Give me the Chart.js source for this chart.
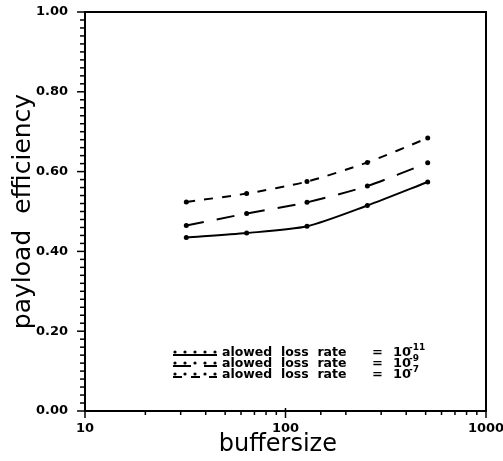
<!DOCTYPE html>
<html>
<head>
<meta charset="utf-8">
<script src="https://cdn.jsdelivr.net/npm/chart.js@4.4.1/dist/chart.umd.min.js"></script>
<style>
  html, body { margin: 0; padding: 0; background: #fff; }
  #wrap { width: 503px; height: 461px; position: relative; }
</style>
</head>
<body>
<div id="wrap"><canvas id="c"></canvas></div>
<script>
// ---- data ----
const bufferSizes = [32, 64, 128, 256, 512];
const rate1e11 = [0.435, 0.446, 0.463, 0.515, 0.574];
const rate1e9  = [0.465, 0.495, 0.523, 0.564, 0.622];
const rate1e7  = [0.524, 0.545, 0.575, 0.623, 0.684];
const seriesNames = ['alowed  loss  rate', 'alowed  loss  rate', 'alowed  loss  rate'];
const seriesExp = ['-11', '-9', '-7'];
const xTickLabels = [10, 100, 1000];
const yTickLabels = [0, 0.2, 0.4, 0.6, 0.8, 1.0];

const tickFont = { family: 'DejaVu Sans', size: 13, weight: 'bold' };

function pts(vals) { return bufferSizes.map((x, i) => ({ x: x, y: vals[i] })); }

const dashes = [[], [18, 13], [9, 9]];

const framePlugin = {
  id: 'frame',
  afterDraw(chart) {
    const ctx = chart.ctx, a = chart.chartArea;
    const xs = chart.scales.x, ys = chart.scales.y;
    ctx.save();
    ctx.strokeStyle = '#000';
    ctx.lineWidth = 2;
    ctx.strokeRect(a.left, a.top, a.right - a.left, a.bottom - a.top);
    // y ticks
    ctx.lineWidth = 1.5;
    ys.ticks.forEach(t => {
      const p = ys.getPixelForValue(t.value);
      const major = yTickLabels.some(v => Math.abs(v - t.value) < 1e-6);
      ctx.beginPath();
      ctx.moveTo(a.left - (major ? 8 : 5), p);
      ctx.lineTo(a.left, p);
      ctx.stroke();
    });
    // x ticks
    xs.ticks.forEach(t => {
      const p = xs.getPixelForValue(t.value);
      const major = xTickLabels.some(v => Math.abs(v - t.value) < 1e-6);
      ctx.beginPath();
      ctx.moveTo(p, a.bottom - (major ? 3 : 0));
      ctx.lineTo(p, a.bottom + (major ? 7 : 4));
      ctx.stroke();
    });
    // legend
    const lx = a.left + 88, ly = a.bottom - 58, rowH = 11;
    ctx.textBaseline = 'middle';
    ctx.fillStyle = '#000';
    chart.data.datasets.forEach((ds, i) => {
      const y = ly + i * rowH;
      ctx.setLineDash(ds.borderDash || []);
      ctx.lineWidth = 2;
      ctx.beginPath();
      ctx.moveTo(lx, y + 2);
      ctx.lineTo(lx + 44, y + 2);
      ctx.stroke();
      ctx.setLineDash([]);
      for (let k = 0; k < 5; k++) {
        ctx.beginPath();
        ctx.arc(lx + 2 + k * 10, y - 1, 1.6, 0, Math.PI * 2);
        ctx.fill();
      }
      ctx.font = 'bold 12.5px "DejaVu Sans"';
      ctx.fillText(seriesNames[i], lx + 49, y);
      ctx.font = 'bold 13px "DejaVu Sans"';
      ctx.fillText('=', lx + 199, y);
      ctx.fillText('10', lx + 220, y);
      ctx.font = 'bold 9px "DejaVu Sans"';
      ctx.fillText(seriesExp[i], lx + 236, y - 5);
    });
    ctx.restore();
  }
};

new Chart(document.getElementById('c'), {
  type: 'line',
  data: {
    datasets: [
      { label: '10^-11', data: pts(rate1e11), borderDash: dashes[0] },
      { label: '10^-9', data: pts(rate1e9), borderDash: dashes[1] },
      { label: '10^-7', data: pts(rate1e7), borderDash: dashes[2] }
    ].map(d => Object.assign(d, {
      borderColor: '#000', backgroundColor: '#000', borderWidth: 2,
      pointRadius: 2.5, pointBackgroundColor: '#000', pointBorderWidth: 0,
      tension: 0.25, fill: false
    }))
  },
  options: {
    responsive: true,
    maintainAspectRatio: false,
    animation: false,
    devicePixelRatio: 1,
    layout: { padding: { top: 12, right: 17, left: 0, bottom: 0 } },
    plugins: { legend: { display: false }, tooltip: { enabled: false } },
    scales: {
      x: {
        type: 'logarithmic', min: 10, max: 1000,
        afterFit: s => { s.height = 50; s.paddingLeft = 0; s.paddingRight = 0; },
        grid: { display: false, drawTicks: false },
        border: { display: false },
        ticks: {
          autoSkip: false, maxRotation: 0, padding: 10,
          color: '#000', font: tickFont,
          callback: v => xTickLabels.includes(v) ? String(v) : ''
        },
        title: { display: true, text: 'buffersize  ', color: '#000',
          font: { family: 'DejaVu Sans', size: 24 }, padding: { top: 0, bottom: 2 } }
      },
      y: {
        min: 0, max: 1,
        afterFit: s => { s.width = 85; s.paddingTop = 0; s.paddingBottom = 0; },
        grid: { display: false, drawTicks: false },
        border: { display: false },
        ticks: {
          stepSize: 0.02, autoSkip: false, padding: 17,
          color: '#000', font: tickFont,
          callback: v => yTickLabels.some(t => Math.abs(t - v) < 1e-6) ? v.toFixed(2) : ''
        },
        title: { display: true, text: 'payload  efficiency', color: '#000',
          font: { family: 'DejaVu Sans', size: 25 }, padding: { top: 8, bottom: 0 } }
      }
    }
  },
  plugins: [framePlugin]
});
</script>
</body>
</html>
